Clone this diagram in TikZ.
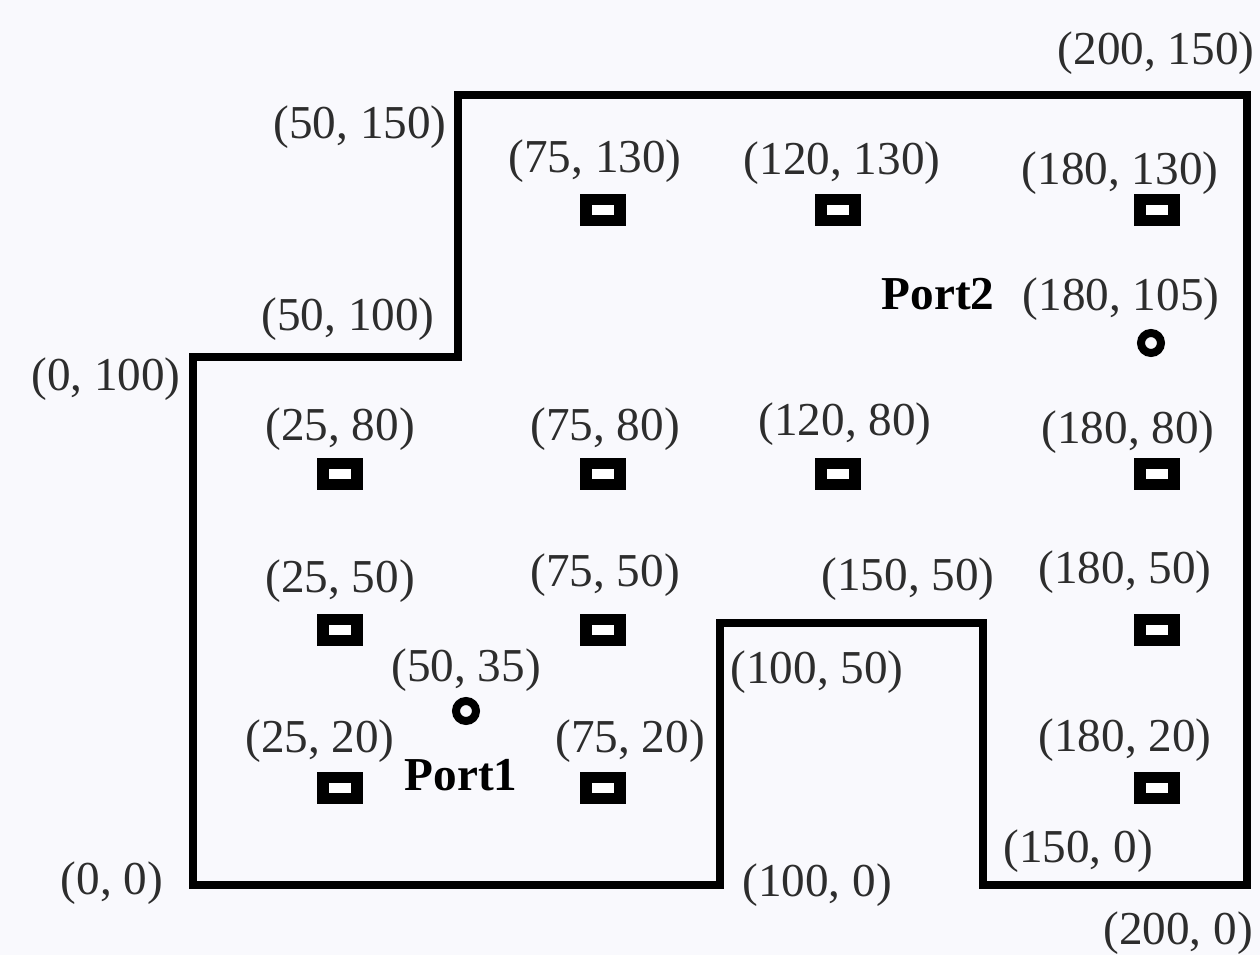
\documentclass[tikz,border=0pt]{standalone}
\usepackage{fontspec}
\setmainfont{Liberation Serif}
\definecolor{bgcol}{RGB}{249,249,253}
\definecolor{txtcol}{RGB}{45,45,45}
\begin{document}
\begin{tikzpicture}[x=0.5pt,y=-0.5pt,
  wall/.style={line width=3.6pt, line join=miter, line cap=rect},
  lbl/.style={font=\fontsize{23.6}{28}\selectfont, text=txtcol, inner sep=0pt, yshift=-1.8pt},
  portlbl/.style={font=\fontsize{23.6}{28}\selectfont\bfseries, text=black, inner sep=0pt, yshift=-1pt},
  sensor/.style={fill=black, minimum width=23pt, minimum height=16pt, inner sep=0pt,
    path picture={\fill[white] ([xshift=-5.5pt,yshift=-2.5pt]path picture bounding box.center)
      rectangle ([xshift=5.5pt,yshift=2.5pt]path picture bounding box.center);}},
  port/.style={circle, draw=black, line width=4pt, minimum size=10pt, inner sep=0pt, fill=bgcol}
]
% canvas
\fill[bgcol] (0,0) rectangle (1260,955);
\useasboundingbox (0,0) rectangle (1260,955);

% room outline corners
\coordinate (c00)   at (193,885);
\coordinate (c1000) at (720,885);
\coordinate (c10050) at (720,623);
\coordinate (c15050) at (983,623);
\coordinate (c1500) at (983,885);
\coordinate (c2000) at (1247,885);
\coordinate (c200150) at (1247,95);
\coordinate (c50150) at (458,95);
\coordinate (c50100) at (458,357);
\coordinate (c0100) at (193,357);

\draw[wall] (c00) -- (c1000) -- (c10050) -- (c15050) -- (c1500) -- (c2000)
  -- (c200150) -- (c50150) -- (c50100) -- (c0100) -- cycle;

% corner labels
\node[lbl] (l200150) at (1156,50)  {(200, 150)};
\node[lbl] (l50150)  at (360,124)  {(50, 150)};
\node[lbl] (l50100)  at (348,316)  {(50, 100)};
\node[lbl] (l0100)   at (106,376)  {(0, 100)};
\node[lbl] (l15050)  at (908,576)  {(150, 50)};
\node[lbl] (l10050)  at (817,669)  {(100, 50)};
\node[lbl] (l1500)   at (1078,848) {(150, 0)};
\node[lbl] (l00)     at (112,880)  {(0, 0)};
\node[lbl] (l1000)   at (817,882)  {(100, 0)};
\node[lbl] (l2000)   at (1178,930) {(200, 0)};

% sensors
\node[sensor] (s75130)  at (603,210) {};
\node[sensor] (s120130) at (838,210) {};
\node[sensor] (s180130) at (1157,210) {};
\node[sensor] (s2580)   at (340,474) {};
\node[sensor] (s7580)   at (603,474) {};
\node[sensor] (s12080)  at (838,474) {};
\node[sensor] (s18080)  at (1157,474) {};
\node[sensor] (s2550)   at (340,630) {};
\node[sensor] (s7550)   at (603,630) {};
\node[sensor] (s18050)  at (1157,630) {};
\node[sensor] (s2520)   at (340,788) {};
\node[sensor] (s7520)   at (603,788) {};
\node[sensor] (s18020)  at (1157,788) {};

% sensor labels
\node[lbl] (t75130)  at (595,158)  {(75, 130)};
\node[lbl] (t120130) at (842,160)  {(120, 130)};
\node[lbl] (t180130) at (1120,170) {(180, 130)};
\node[lbl] (t2580)   at (340,426)  {(25, 80)};
\node[lbl] (t7580)   at (605,426)  {(75, 80)};
\node[lbl] (t12080)  at (845,421)  {(120, 80)};
\node[lbl] (t18080)  at (1128,429) {(180, 80)};
\node[lbl] (t2550)   at (340,578)  {(25, 50)};
\node[lbl] (t7550)   at (605,572)  {(75, 50)};
\node[lbl] (t18050)  at (1125,569) {(180, 50)};
\node[lbl] (t2520)   at (320,738)  {(25, 20)};
\node[lbl] (t7520)   at (630,738)  {(75, 20)};
\node[lbl] (t18020)  at (1125,737) {(180, 20)};

% ports
\node[port] (p1) at (466,711) {};
\node[port] (p2) at (1151,343) {};
\node[lbl] (tp1) at (466,667) {(50, 35)};
\node[portlbl] (np1) at (461,773) {Port1};
\node[lbl] (tp2) at (1121,296) {(180, 105)};
\node[portlbl] (np2) at (938,292) {Port2};
\end{tikzpicture}
\end{document}
